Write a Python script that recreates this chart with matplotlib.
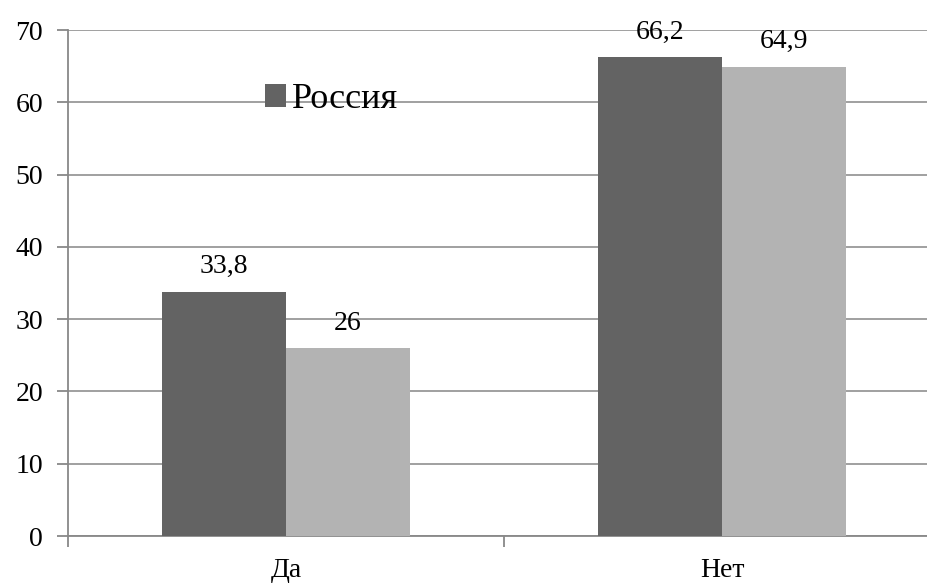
import numpy as np
import matplotlib.pyplot as plt

categories = ['Да', 'Нет']
russia = [33.8, 66.2]
other = [26, 64.9]
russia_labels = ['33,8', '66,2']
other_labels = ['26', '64,9']

FONT = 'Liberation Serif'

fig = plt.figure(figsize=(9.28, 5.88), dpi=100)
# plot area runs off the right edge, as in the original
ax = fig.add_axes([68 / 928, 52 / 588, 872 / 928, 506 / 588])

x = np.arange(len(categories))
w = 0.284
dark = '#636363'
light = '#b3b3b3'
b1 = ax.bar(x - w / 2, russia, w, color=dark, label='Россия', zorder=3)
b2 = ax.bar(x + w / 2, other, w, color=light, zorder=3)

for bars, labs in ((b1, russia_labels), (b2, other_labels)):
    for b, lab in zip(bars, labs):
        ax.annotate(lab, (b.get_x() + b.get_width() / 2, b.get_height()),
                    xytext=(0, 9), textcoords='offset points',
                    ha='center', va='bottom', fontsize=20, family=FONT)

ax.set_xlim(-0.5, 1.5)
ax.set_ylim(0, 70)
ax.set_yticks(np.arange(0, 71, 10))
ax.set_yticklabels([str(v) for v in range(0, 71, 10)], family=FONT)
ax.yaxis.grid(True, color='#999999', lw=1.3, zorder=0)

ax.set_xticks(x)
ax.set_xticklabels(categories, family=FONT)
ax.set_xticks([-0.5, 0.5, 1.5], minor=True)
ax.tick_params(axis='x', which='major', length=0, pad=16, labelsize=20)
ax.tick_params(axis='x', which='minor', length=8, width=1.3, color='#888888')
ax.tick_params(axis='y', length=8, width=1.3, color='#888888', pad=10,
               labelsize=20)

for s in ('top', 'right'):
    ax.spines[s].set_visible(False)
for s in ('left', 'bottom'):
    ax.spines[s].set_color('#888888')
    ax.spines[s].set_linewidth(1.3)

ax.legend(handles=[b1], loc='upper left', bbox_to_anchor=(0.205, 0.93),
          frameon=False, prop={'family': FONT, 'size': 26},
          handlelength=0.6, handleheight=0.6,
          handletextpad=0.15, borderpad=0)

fig.savefig('out.png', dpi=100)
